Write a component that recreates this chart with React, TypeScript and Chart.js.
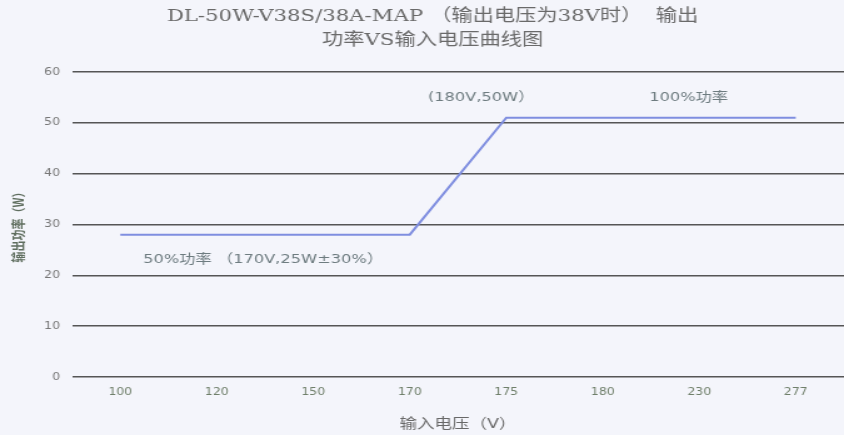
import React, { useEffect, useRef } from 'react';
import { Chart, registerables } from 'chart.js';

Chart.register(...registerables);

// ---- data ----
const categories = ['100', '120', '150', '170', '175', '180', '230', '277'];
const outputPower = [28, 28, 28, 28, 51, 51, 51, 51];
const yMin = 0;
const yMax = 60;
const yStep = 10;
const titleLines = ['　DL-50W-V38S/38A-MAP （输出电压为38V时）  输出', '　功率VS输入电压曲线图'];
const xAxisTitle = '输入电压（V）';
const yAxisTitle = '输出功率（W）';
const noteTexts = ['(180V,50W）', '100%功率', '50%功率 （170V,25W±30%）'];
const noteX = [3.74, 5.89, 1.48];
const noteY = [55, 55, 23];

// ---- layout ----
const W = 844;
const H = 435;
const STRETCH = 1.25;
const CW = Math.round(W / STRETCH);
const BG = '#f4f5fb';

const bgPlugin = {
  id: 'bg',
  beforeDraw(chart: any) {
    const ctx = chart.ctx;
    ctx.save();
    ctx.fillStyle = BG;
    ctx.fillRect(0, 0, chart.width, chart.height);
    ctx.restore();
  },
};

const notesPlugin = {
  id: 'notes',
  afterDatasetsDraw(chart: any) {
    const ctx = chart.ctx;
    const xs = chart.scales.x;
    const ys = chart.scales.y;
    ctx.save();
    ctx.font = "13px 'DejaVu Sans', 'Noto Sans CJK SC'";
    ctx.fillStyle = '#6e7c80';
    ctx.textAlign = 'center';
    ctx.textBaseline = 'middle';
    noteTexts.forEach((t, i) => {
      ctx.fillText(t, xs.getPixelForValue(noteX[i]), ys.getPixelForValue(noteY[i]));
    });
    ctx.restore();
  },
};

export default function App() {
  const ref = useRef<HTMLCanvasElement | null>(null);

  useEffect(() => {
    document.body.style.margin = '0';
    document.body.style.background = BG;
    const canvas = ref.current!;
    const chart = new Chart(canvas, {
      type: 'line',
      data: {
        labels: categories,
        datasets: [
          {
            data: outputPower,
            borderColor: '#7f8ee0',
            borderWidth: 2,
            pointRadius: 0,
            tension: 0,
            fill: false,
          },
        ],
      },
      options: {
        animation: false,
        responsive: false,
        devicePixelRatio: 1,
        events: [],
        layout: { padding: 0 },
        plugins: {
          legend: { display: false },
          tooltip: { enabled: false },
          title: {
            display: true,
            text: titleLines,
            color: '#6a6a6a',
            font: { family: "'DejaVu Serif', 'Noto Sans CJK SC'", size: 17, weight: 'normal', lineHeight: 24 / 17 },
            padding: { top: 4.5, bottom: 19.5 },
          },
        },
        scales: {
          x: {
            type: 'category',
            offset: true,
            grid: { display: false, drawTicks: false },
            border: { display: false },
            ticks: {
              color: '#6f7f6a',
              font: { family: "'DejaVu Sans'", size: 10 },
              padding: 9,
              maxRotation: 0,
              autoSkip: false,
            },
            title: {
              display: true,
              text: xAxisTitle,
              color: '#686868',
              font: { family: "'DejaVu Sans', 'Noto Sans CJK SC'", size: 14 },
              padding: { top: 0, bottom: 2.7 },
            },
            afterFit(scale: any) {
              scale.height = 58;
            },
          },
          y: {
            min: yMin,
            max: yMax,
            grid: { color: '#555555', lineWidth: 1.5, drawTicks: false },
            border: { display: false },
            ticks: {
              stepSize: yStep,
              color: '#777777',
              font: { family: "'DejaVu Sans'", size: 10 },
              padding: 9.6,
            },
            title: {
              display: true,
              text: yAxisTitle,
              color: '#5f6e5f',
              font: { family: "'Noto Sans CJK SC'", size: 11, weight: 'bold' },
              padding: { top: 8.6, bottom: 0 },
            },
            afterFit(scale: any) {
              scale.width = 57.6;
            },
          },
        },
      },
      plugins: [bgPlugin, notesPlugin],
    });
    return () => chart.destroy();
  }, []);

  return (
    <div style={{ width: W, height: H, overflow: 'hidden' }}>
      <canvas
        ref={ref}
        width={CW}
        height={H}
        style={{ display: 'block', width: `${W}px`, height: `${H}px` }}
      />
    </div>
  );
}
